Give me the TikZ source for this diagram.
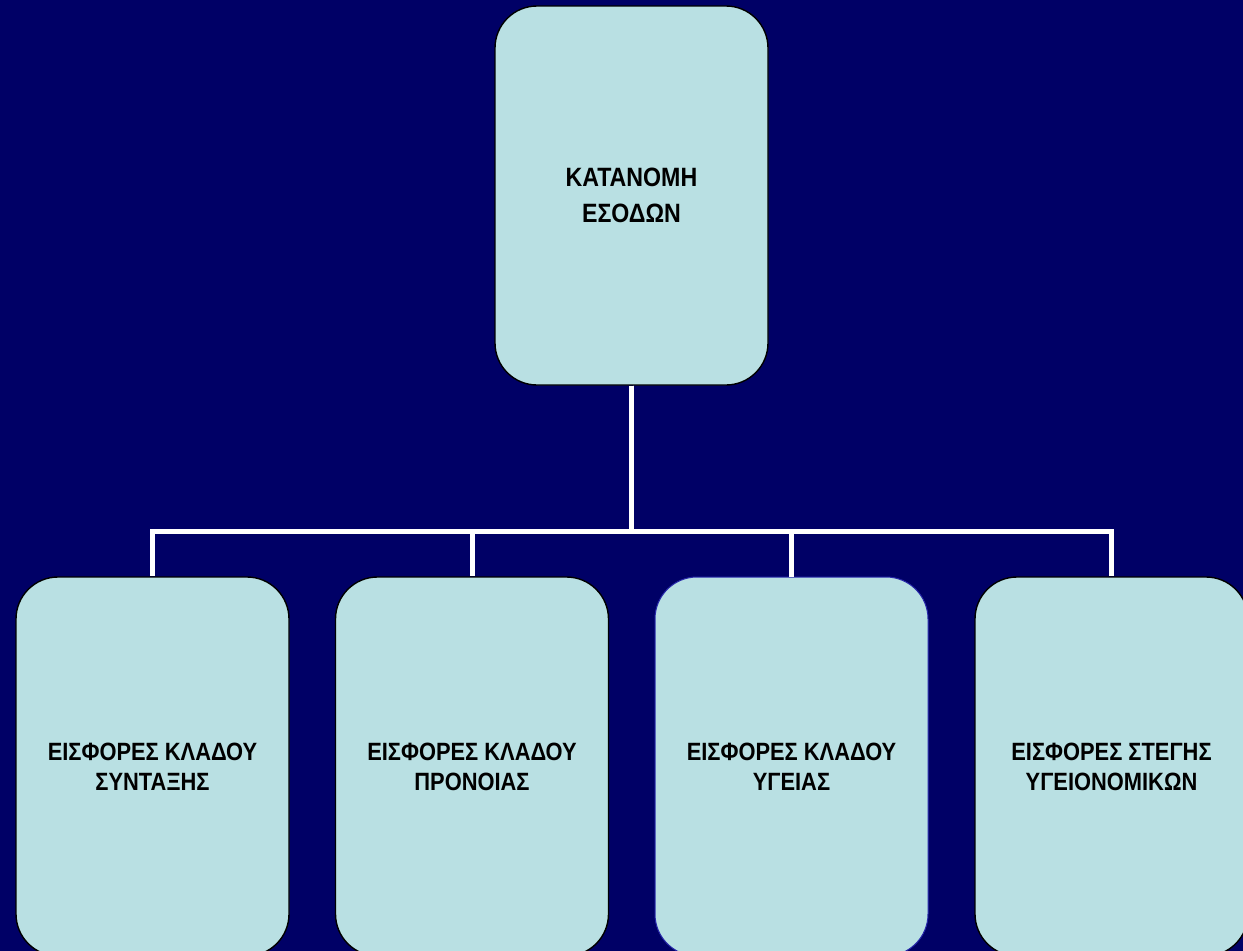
\documentclass[tikz,border=0pt]{standalone}
\usepackage{fontspec}
\setmainfont{Liberation Sans}
\newfontfamily\boxfont{Liberation Sans}[FakeStretch=0.875]
\usepackage{tikz}
\usetikzlibrary{calc}
\usetikzlibrary{positioning, shapes, fit}

\definecolor{navybg}{RGB}{0,0,102}
\definecolor{boxfill}{RGB}{185,224,227}
\definecolor{boxedge}{RGB}{40,40,170}

\tikzset{
  unitbox/.style={draw=black, line width=1.4pt, fill=boxfill, rounded corners=42pt,
    minimum width=273pt, minimum height=379pt, align=center, text=black,
    font=\boxfont\fontsize{25}{30}\selectfont\bfseries},
  branch/.style={draw=white, line width=5pt}
}

\begin{document}
\begin{tikzpicture}[x=1pt, y=-1pt]
			% Background and frame
			\fill[navybg] (0,0) rectangle (1243,951);
			\useasboundingbox (0,0) rectangle (1243,951);
			\clip (0,0) rectangle (1243,951);

			% Draw the top box
			\node[unitbox, font=\boxfont\fontsize{26.5}{36}\selectfont\bfseries] (Income) at (631.5, 195.5) {ΚΑΤΑΝΟΜΗ\\ΕΣΟΔΩΝ};

			% Draw the four lower boxes
			\node[unitbox] (Pension) at (152.5, 766.5) {ΕΙΣΦΟΡΕΣ ΚΛΑΔΟΥ\\ΣΥΝΤΑΞΗΣ};
			\node[unitbox] (Welfare) at (472, 766.5) {ΕΙΣΦΟΡΕΣ ΚΛΑΔΟΥ\\ΠΡΟΝΟΙΑΣ};
			\node[unitbox, draw=boxedge, line width=1pt] (Health) at (791.5, 766.5) {ΕΙΣΦΟΡΕΣ ΚΛΑΔΟΥ\\ΥΓΕΙΑΣ};
			\node[unitbox] (Housing) at (1111.5, 766.5) {ΕΙΣΦΟΡΕΣ ΣΤΕΓΗΣ\\ΥΓΕΙΟΝΟΜΙΚΩΝ};

			% Draw the branches from the top box
			\coordinate (Bus) at (631.5, 531.5);
			\draw[branch] (Income.south) -- (Bus) -| (Pension.north);
			\draw[branch] (Income.south) -- (Bus) -| (Welfare.north);
			\draw[branch] (Income.south) -- (Bus) -| (Health.north);
			\draw[branch] (Income.south) -- (Bus) -| (Housing.north);

		\end{tikzpicture}
\end{document}
